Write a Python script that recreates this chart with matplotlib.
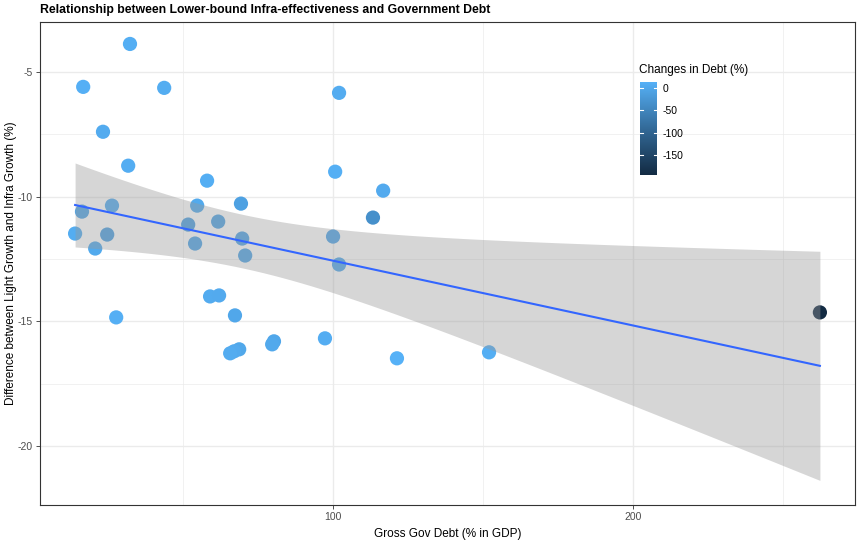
import numpy as np
import matplotlib
matplotlib.use("Agg")
import matplotlib.pyplot as plt
from matplotlib.colors import LinearSegmentedColormap, Normalize

plt.rcParams['font.family'] = ['Liberation Sans', 'DejaVu Sans']
plt.rcParams['axes.unicode_minus'] = False

# gross government debt (% of GDP)
gov_debt = [32.3, 16.7, 43.7, 102.0, 23.3, 31.7, 100.7, 58.0, 116.7, 69.3,
            26.3, 54.7, 16.3, 113.3, 51.7, 61.7, 14.0, 24.7, 100.0, 69.7,
            54.0, 20.7, 70.7, 102.0, 59.0, 62.0, 27.7, 67.3, 262.3, 97.3,
            80.3, 79.7, 152.0, 68.7, 67.0, 65.7, 121.3]
# difference between light growth and infra growth (%)
growth_diff = [-3.88, -5.60, -5.64, -5.84, -7.40, -8.76, -9.00, -9.36, -9.76, -10.28,
               -10.36, -10.36, -10.60, -10.84, -11.12, -11.00, -11.48, -11.52, -11.60, -11.68,
               -11.88, -12.08, -12.36, -12.72, -14.00, -13.96, -14.84, -14.76, -14.64, -15.68,
               -15.80, -15.92, -16.24, -16.12, -16.20, -16.28, -16.48]
# change in debt (%)
debt_change = [8, 10, 6, 5, 4, 7, 9, 8, 3, -10,
               5, 2, -5, -35, -12, -8, 6, -10, -3, -6,
               -4, 2, -5, 0, 4, 3, 9, -2, -195, 7,
               -2, 0, 8, -1, 3, 5, 13]

cbar_ticks = [0, -50, -100, -150]

x = np.array(gov_debt)
y = np.array(growth_diff)
c = np.array(debt_change)

# ggplot-like continuous colour scale
cmap = LinearSegmentedColormap.from_list("gg", ["#132B43", "#336A98", "#56B1F7"])
norm = Normalize(vmin=c.min(), vmax=c.max())

# linear fit with 95% confidence band
n = len(x)
slope, intercept = np.polyfit(x, y, 1)
resid = y - (slope * x + intercept)
s = np.sqrt(np.sum(resid ** 2) / (n - 2))
sxx = np.sum((x - x.mean()) ** 2)
xs = np.linspace(x.min(), x.max(), 80)
ys = slope * xs + intercept
se = s * np.sqrt(1.0 / n + (xs - x.mean()) ** 2 / sxx)
t_val = 2.030

fig = plt.figure(figsize=(8.57, 5.4), dpi=100)
ax = fig.add_axes([40 / 857, 1 - 505 / 540, 815 / 857, 483 / 540])

ax.scatter(x, y, c=c, cmap=cmap, norm=norm, s=105, linewidths=0, zorder=3)
ax.fill_between(xs, ys - t_val * se, ys + t_val * se, color="#999999", alpha=0.4,
                linewidth=0, zorder=4)
ax.plot(xs, ys, color="#3366FF", linewidth=1.5, zorder=5)

ax.set_xlim(2.3, 274.0)
ax.set_ylim(-22.36, -3.0)
ax.set_xticks([100, 200])
ax.set_xticks([50, 150, 250], minor=True)
ax.set_yticks([-5, -10, -15, -20])
ax.set_yticks([-7.5, -12.5, -17.5], minor=True)
ax.grid(which="major", color="#EBEBEB", linewidth=1.0, zorder=0)
ax.grid(which="minor", color="#EBEBEB", linewidth=0.5, zorder=0)
ax.set_axisbelow(True)
ax.tick_params(which="major", length=3, width=0.6, color="#333333",
               labelsize=7.5, labelcolor="#4D4D4D", pad=2)
ax.tick_params(which="minor", length=0)
for sp in ax.spines.values():
    sp.set_color("#333333")
    sp.set_linewidth(0.8)

ax.set_xlabel("Gross Gov Debt (% in GDP)", fontsize=8.5, labelpad=4)
ax.set_ylabel("Difference between Light Growth and Infra Growth (%)", fontsize=8.5)
ax.yaxis.set_label_coords(-23 / 815, 0.5)
fig.text(40 / 857, 1 - 10 / 540, "Relationship between Lower-bound Infra-effectiveness and Government Debt",
         fontsize=8.8, fontweight="bold", va="center", ha="left")

# colour bar legend
cax = fig.add_axes([640 / 857, 1 - 175 / 540, 17 / 857, 93 / 540])
grad = np.linspace(c.min(), c.max(), 256).reshape(-1, 1)
cax.imshow(grad, aspect="auto", cmap=cmap, norm=norm, origin="lower",
           extent=[0, 1, c.min(), c.max()])
cax.set_xlim(0, 1)
cax.set_ylim(c.min(), c.max())
for tv in cbar_ticks:
    cax.plot([0, 0.2], [tv, tv], color="white", linewidth=0.8)
    cax.plot([0.8, 1], [tv, tv], color="white", linewidth=0.8)
cax.set_xticks([])
cax.yaxis.tick_right()
cax.set_yticks(cbar_ticks)
cax.tick_params(axis="y", length=0, labelsize=7.5, pad=4)
for sp in cax.spines.values():
    sp.set_visible(False)
fig.text(639 / 857, 1 - 70 / 540, "Changes in Debt (%)", fontsize=8.5, va="center", ha="left")

fig.savefig("out.png", dpi=100)
